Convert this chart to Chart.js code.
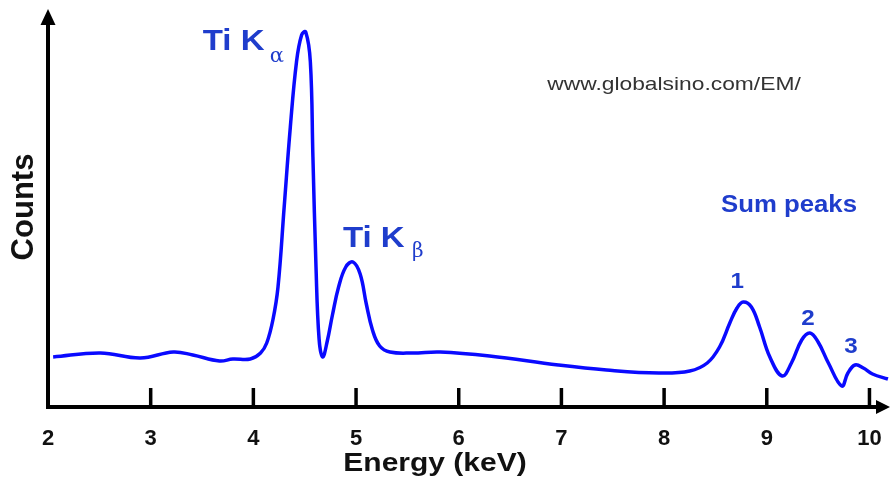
<!DOCTYPE html>
<html lang="en">
    <head>
        <title>Ti EDS Spectrum</title>
        <meta charset="utf-8">
        <script src="https://cdn.jsdelivr.net/npm/chart.js@4.4.0/dist/chart.umd.min.js"></script>
        <style>
            html, body { margin: 0; padding: 0; background: #ffffff; }
            #chartBox { width: 890px; height: 486px; }
        </style>
    </head>

    <body>
        <div id="chartBox">
            <canvas id="spectrumChart"></canvas>
        </div>

        <script>
            // spectrum read as energy (keV) / counts pairs
            var energy = [2.05, 2.51, 2.90, 3.22, 3.41, 3.67, 3.80, 3.97, 4.07, 4.13, 4.19, 4.24,
                          4.30, 4.36, 4.42, 4.47, 4.51, 4.555, 4.58, 4.61, 4.64, 4.675,
                          4.72, 4.77, 4.83, 4.90, 4.97, 5.04, 5.10, 5.16, 5.23, 5.33, 5.55,
                          5.82, 6.30, 6.97, 7.44, 7.95, 8.25, 8.42, 8.54, 8.64, 8.71, 8.77,
                          8.85, 8.93, 9.03, 9.15, 9.24, 9.34, 9.42, 9.50, 9.60, 9.73,
                          9.79, 9.86, 9.94, 10.03, 10.18];
            var counts = [50, 54, 49, 55, 52, 46, 48, 48, 54, 64, 87, 120,
                          200, 280, 345, 372, 375, 345, 250, 140, 68, 50,
                          66, 92, 120, 140, 145, 133, 103, 77, 61, 55, 54,
                          55, 51, 42, 37, 34, 36, 44, 60, 84, 99, 105,
                          100, 80, 50, 31, 44, 67, 74, 65, 44, 21,
                          34, 42, 39, 33, 28];

            var xTicks = [2, 3, 4, 5, 6, 7, 8, 9, 10];
            var xMin = 2;
            var xMax = 10.2;
            var yMax = 400;

            // peaks that get a label: [energy, counts]
            var kAlpha = [4.51, 375];
            var kBeta = [4.97, 145];
            var sumPeaks = [[8.77, 105], [9.42, 74], [9.86, 42]];

            var labelBlue = '#1f3dcc';

            function stretchText(ctx, text, x, y, font, color, sx, align) {
                ctx.save();
                ctx.font = font;
                ctx.fillStyle = color;
                ctx.textBaseline = 'alphabetic';
                ctx.textAlign = align || 'center';
                ctx.translate(x, y);
                ctx.scale(sx, 1);
                ctx.fillText(text, 0, 0);
                ctx.restore();
            }

            // axes with arrows, inward ticks and the text on the plot
            var decorations = {
                id: 'decorations',
                afterDatasetsDraw(chart) {
                    const ctx = chart.ctx;
                    const xs = chart.scales.x;
                    const ys = chart.scales.y;
                    const left = xs.getPixelForValue(xMin);
                    const base = ys.getPixelForValue(0);
                    const right = xs.getPixelForValue(xMax);

                    ctx.save();
                    ctx.strokeStyle = '#000';
                    ctx.fillStyle = '#000';
                    ctx.lineWidth = 4;
                    ctx.lineCap = 'butt';

                    // y axis
                    ctx.beginPath();
                    ctx.moveTo(left, base + 2);
                    ctx.lineTo(left, 20);
                    ctx.stroke();
                    ctx.beginPath();
                    ctx.moveTo(left, 9);
                    ctx.lineTo(left - 7.5, 25);
                    ctx.lineTo(left + 7.5, 25);
                    ctx.closePath();
                    ctx.fill();

                    // x axis
                    ctx.beginPath();
                    ctx.moveTo(left - 2, base);
                    ctx.lineTo(right - 10, base);
                    ctx.stroke();
                    ctx.beginPath();
                    ctx.moveTo(right, base);
                    ctx.lineTo(right - 14, base - 7);
                    ctx.lineTo(right - 14, base + 7);
                    ctx.closePath();
                    ctx.fill();

                    // ticks point up into the plot
                    ctx.lineWidth = 3.5;
                    for (var t of xTicks) {
                        if (t === xMin) continue;
                        var px = xs.getPixelForValue(t);
                        ctx.beginPath();
                        ctx.moveTo(px, base);
                        ctx.lineTo(px, base - 19);
                        ctx.stroke();
                    }
                    ctx.restore();

                    // x axis title
                    stretchText(ctx, 'Energy (keV)', 435, 471, 'bold 25px "Liberation Sans", Arial, sans-serif', '#111', 1.2);

                    // Ti K alpha
                    var ax = xs.getPixelForValue(kAlpha[0]);
                    var ay = ys.getPixelForValue(kAlpha[1]);
                    stretchText(ctx, 'Ti K', ax - 103, ay + 18, 'bold 30px "Liberation Sans", Arial, sans-serif', labelBlue, 1.1, 'left');
                    stretchText(ctx, 'α', ax - 36, ay + 30, '21px "DejaVu Serif", serif', labelBlue, 1, 'left');

                    // Ti K beta
                    var bx = xs.getPixelForValue(kBeta[0]);
                    var by = ys.getPixelForValue(kBeta[1]);
                    stretchText(ctx, 'Ti K', bx - 10, by - 15, 'bold 30px "Liberation Sans", Arial, sans-serif', labelBlue, 1.1, 'left');
                    stretchText(ctx, 'β', bx + 59, by - 5, '20px "DejaVu Serif", serif', labelBlue, 1, 'left');

                    // sum peaks
                    stretchText(ctx, 'Sum peaks', 789, 212, 'bold 23px "Liberation Sans", Arial, sans-serif', labelBlue, 1.12);
                    var offsets = [[-6, -14], [-2, -8], [-4, -12]];
                    for (var i = 0; i < sumPeaks.length; i++) {
                        var sx = xs.getPixelForValue(sumPeaks[i][0]) + offsets[i][0];
                        var sy = ys.getPixelForValue(sumPeaks[i][1]) + offsets[i][1];
                        stretchText(ctx, String(i + 1), sx, sy, 'bold 22px "Liberation Sans", Arial, sans-serif', labelBlue, 1.1);
                    }

                    // watermark
                    stretchText(ctx, 'www.globalsino.com/EM/', 674, 90, '19px "Liberation Sans", Arial, sans-serif', '#333', 1.2);
                }
            };

            var points = energy.map((e, i) => ({ x: e, y: counts[i] }));

            new Chart(document.getElementById('spectrumChart'), {
                type: 'line',
                data: {
                    datasets: [{
                        data: points,
                        borderColor: '#0a0aff',
                        borderWidth: 3.5,
                        pointRadius: 0,
                        fill: false,
                        tension: 0.4
                    }]
                },
                options: {
                    responsive: true,
                    maintainAspectRatio: false,
                    animation: false,
                    layout: { padding: { top: 7, right: 0, left: 0, bottom: 0 } },
                    plugins: {
                        legend: { display: false },
                        tooltip: { enabled: false }
                    },
                    scales: {
                        x: {
                            type: 'linear',
                            min: xMin,
                            max: xMax,
                            afterBuildTicks: (scale) => {
                                scale.ticks = xTicks.map(v => ({ value: v }));
                            },
                            afterFit: (scale) => {
                                scale.height = 79;
                                scale.paddingLeft = 0;
                                scale.paddingRight = 0;
                            },
                            grid: { display: false },
                            border: { display: false },
                            ticks: {
                                padding: 11,
                                color: '#111',
                                maxRotation: 0,
                                font: { family: '"Liberation Sans", Arial, sans-serif', size: 22, weight: 'bold' }
                            }
                        },
                        y: {
                            min: 0,
                            max: yMax,
                            afterFit: (scale) => { scale.width = 48; },
                            grid: { display: false },
                            border: { display: false },
                            ticks: { display: false },
                            title: {
                                display: true,
                                text: 'Counts',
                                color: '#111',
                                padding: { top: 6, bottom: 0 },
                                font: { family: '"Liberation Sans", Arial, sans-serif', size: 31, weight: 'bold' }
                            }
                        }
                    }
                },
                plugins: [decorations]
            });
        </script>
    </body>
</html>
